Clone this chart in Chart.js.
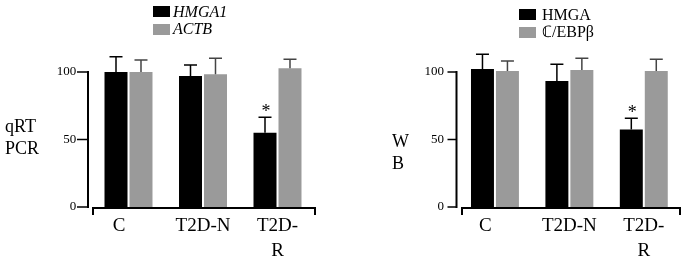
<!DOCTYPE html>
<html>
<head>
<meta charset="utf-8">
<script src="https://cdn.jsdelivr.net/npm/chart.js@4.4.1/dist/chart.umd.min.js"></script>
<style>
  body { margin: 0; background: #fff; }
  #page { position: relative; width: 685px; height: 261px; overflow: hidden;
          font-family: "Liberation Serif", "Times New Roman", serif; color: #000; }
  .panel { position: absolute; top: 0; height: 261px; }
  .txt { position: absolute; white-space: nowrap; }
  .key { position: absolute; width: 17px; height: 11px; }
</style>
</head>
<body>
<div id="page">
  <div class="panel" style="left:0;width:340px"><canvas id="pcr"></canvas></div>
  <div class="panel" style="left:340px;width:345px"><canvas id="wb"></canvas></div>
</div>
<script>
  // shared categories / ticks
  const groups = ["C", "T2D-N", ["T2D-", "R"]];
  const yTicks = [0, 50, 100];

  // qRT-PCR panel
  const pcrTitle = ["qRT", "PCR"];
  const pcrSeries = ["HMGA1", "ACTB"];
  const pcrHmga1 = [100, 97, 55];
  const pcrHmga1Err = [11.3, 8.2, 11.4];
  const pcrActb = [100, 98.3, 102.7];
  const pcrActbErr = [8.9, 11.8, 6.7];
  const pcrStars = ["", "", "*"];

  // Western blot panel
  const wbTitle = ["W", "B"];
  const wbSeries = ["HMGA", "\u2102/EBP\u03b2"];
  const wbHmga = [102.2, 93.3, 57.5];
  const wbHmgaErr = [10.9, 12.4, 8.2];
  const wbCebpb = [100.7, 101.5, 100.7];
  const wbCebpbErr = [7.4, 8.6, 8.7];
  const wbStars = ["", "", "*"];

  const SERIF = "'Liberation Serif', 'Times New Roman', serif";

  // error bars (upward only) and significance stars
  const errorBars = {
    id: "errorBars",
    afterDatasetsDraw(chart) {
      const { ctx } = chart;
      const y = chart.scales.y;
      chart.data.datasets.forEach((ds, i) => {
        const meta = chart.getDatasetMeta(i);
        meta.data.forEach((bar, j) => {
          const top = y.getPixelForValue(ds.data[j] + ds.errors[j]);
          ctx.save();
          ctx.strokeStyle = ds.errColor;
          ctx.lineWidth = 1.5;
          ctx.beginPath();
          ctx.moveTo(bar.x, bar.y);
          ctx.lineTo(bar.x, top);
          ctx.moveTo(bar.x - 6.5, top);
          ctx.lineTo(bar.x + 6.5, top);
          ctx.stroke();
          if (ds.stars && ds.stars[j]) {
            ctx.fillStyle = "#000";
            ctx.font = "18px " + SERIF;
            ctx.textAlign = "center";
            ctx.textBaseline = "alphabetic";
            ctx.fillText(ds.stars[j], bar.x + 1, top);
          }
          ctx.restore();
        });
      });
    },
  };

  // offset y axis + bracket-shaped x axis
  const prismAxes = {
    id: "prismAxes",
    afterDraw(chart, args, o) {
      const { ctx, chartArea } = chart;
      const y = chart.scales.y;
      ctx.save();
      ctx.strokeStyle = "#000";
      ctx.lineWidth = 2;
      ctx.beginPath();
      ctx.moveTo(o.yAxisX, y.getPixelForValue(100) - 1);
      ctx.lineTo(o.yAxisX, y.getPixelForValue(0) + 1);
      ctx.stroke();
      ctx.lineWidth = 1.5;
      ctx.beginPath();
      yTicks.forEach((v) => {
        const p = y.getPixelForValue(v);
        ctx.moveTo(o.yAxisX - o.tick, p);
        ctx.lineTo(o.yAxisX, p);
      });
      ctx.stroke();
      const by = chartArea.bottom + 1;
      ctx.lineWidth = 2;
      ctx.beginPath();
      ctx.moveTo(o.xFrom, by + 7);
      ctx.lineTo(o.xFrom, by);
      ctx.lineTo(o.xTo, by);
      ctx.lineTo(o.xTo, by + 7);
      ctx.stroke();
      ctx.restore();
    },
  };

  function drawPanel(id, names, a, aErr, b, bErr, stars, geo) {
    const canvas = document.getElementById(id);
    return new Chart(canvas, {
      type: "bar",
      data: {
        labels: groups,
        datasets: [
          { label: names[0], data: a, errors: aErr, stars: stars,
            backgroundColor: "#000", errColor: "#000", clip: false },
          { label: names[1], data: b, errors: bErr,
            backgroundColor: "#9a9a9a", errColor: "#444", clip: false },
        ],
      },
      options: {
        responsive: true,
        maintainAspectRatio: false,
        animation: false,
        layout: { padding: { top: 72, right: geo.padRight, left: 0, bottom: 0 } },
        categoryPercentage: 0.671,
        barPercentage: 0.92,
        plugins: {
          legend: { display: false },
          tooltip: { enabled: false },
          prismAxes: { yAxisX: geo.yAxisX, tick: geo.tick, xFrom: geo.xFrom, xTo: geo.xTo },
        },
        scales: {
          x: {
            grid: { display: false, drawTicks: false },
            border: { display: false },
            ticks: {
              color: "#000",
              font: { family: SERIF, size: 19, lineHeight: 1.3 },
              padding: 6.5,
              maxRotation: 0,
              autoSkip: false,
              callback: function (v, i) {
                const l = this.getLabelForValue(v);
                return i === 0 ? l + "\u2002\u2002" : l;
              },
            },
            afterFit: (s) => { s.height = 54; },
          },
          y: {
            min: 0,
            max: 100,
            grid: { display: false, drawTicks: false },
            border: { display: false },
            ticks: {
              stepSize: 50,
              color: "#000",
              font: { family: SERIF, size: 13 },
              padding: geo.tickPad,
            },
            afterFit: (s) => { s.width = geo.left; },
          },
        },
      },
      plugins: [errorBars, prismAxes],
    });
  }

  function addText(text, x, y, font) {
    const d = document.createElement("div");
    d.className = "txt";
    d.style.left = x + "px";
    d.style.top = y + "px";
    d.style.font = font;
    d.textContent = text;
    document.getElementById("page").appendChild(d);
  }

  function addKey(x, y, color) {
    const d = document.createElement("div");
    d.className = "key";
    d.style.left = x + "px";
    d.style.top = y + "px";
    d.style.background = color;
    document.getElementById("page").appendChild(d);
  }

  drawPanel("pcr", pcrSeries, pcrHmga1, pcrHmga1Err, pcrActb, pcrActbErr, pcrStars,
    { left: 91.25, padRight: 25.25, tickPad: 15, yAxisX: 88, tick: 11, xFrom: 93, xTo: 315 });
  drawPanel("wb", wbSeries, wbHmga, wbHmgaErr, wbCebpb, wbCebpbErr, wbStars,
    { left: 117.75, padRight: 4, tickPad: 13.75, yAxisX: 116.5, tick: 9, xFrom: 122, xTo: 340 });

  // legends
  addKey(153, 6, "#000");
  addKey(153, 24, "#9a9a9a");
  addText(pcrSeries[0], 173, 3, "italic 16px/17px " + SERIF);
  addText(pcrSeries[1], 173, 20, "italic 16px/17px " + SERIF);
  addKey(519, 9, "#000");
  addKey(519, 27, "#9a9a9a");
  addText(wbSeries[0], 542, 6, "16px/17px " + SERIF);
  addText(wbSeries[1], 542, 23, "16px/17px " + SERIF);

  // y axis titles
  pcrTitle.forEach((t, i) => addText(t, 5, 115 + i * 22, "18px/22px " + SERIF));
  wbTitle.forEach((t, i) => addText(t, 392, 130 + i * 22, "18px/22px " + SERIF));
</script>
</body>
</html>
